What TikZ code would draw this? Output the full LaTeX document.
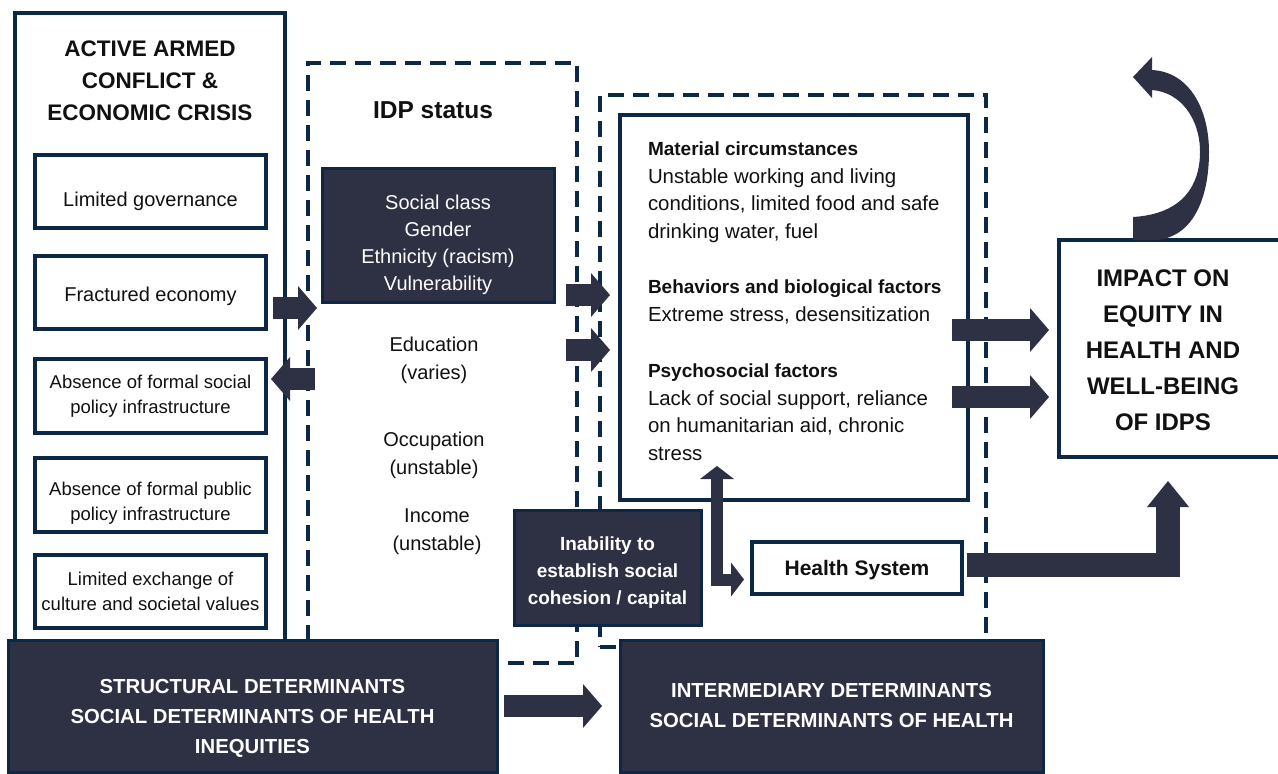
\documentclass[tikz,border=0pt]{standalone}
\usepackage{fontspec}
\setmainfont{Liberation Sans}
\usetikzlibrary{arrows.meta,calc}
\definecolor{navy}{HTML}{0C2846}
\definecolor{darkf}{HTML}{2E3044}
\definecolor{ink}{HTML}{111111}
\newcommand\myfs[2]{\fontsize{#1}{#2}\selectfont}
\begin{document}
\begin{tikzpicture}[x=1pt,y=-1pt,
  box/.style={draw=navy, line width=3.5pt, fill=white, inner sep=0pt, outer sep=0pt, anchor=north west, align=center, text=ink},
  darkbox/.style={draw=navy, line width=3pt, fill=darkf, text=white, inner sep=0pt, outer sep=0pt, anchor=north west, align=center},
  dashbox/.style={draw=navy, line width=4pt, dash pattern=on 16pt off 9pt, inner sep=0pt, outer sep=0pt, anchor=north west},
  txt/.style={inner sep=0pt, outer sep=0pt, align=center, text=ink},
  wtxt/.style={inner sep=0pt, outer sep=0pt, align=center, text=white},
  bigarrow/.style={color=darkf, line width=22pt, -{Triangle[length=19pt,width=44pt,line width=0pt]}},
  elbowarrow/.style={color=darkf, line width=24pt, miter limit=10, line join=miter, -{Triangle[length=26pt,width=42pt,line width=0pt]}},
  duoarrow/.style={color=darkf, line width=12pt, line join=miter, {Triangle[length=13pt,width=34pt,line width=0pt]}-{Triangle[length=13pt,width=34pt,line width=0pt]}}
]
\useasboundingbox (0,0) rectangle (1278,774);
\fill[white] (0,0) rectangle (1278,774);

% dashed containers
\node[dashbox, minimum width=269pt, minimum height=600pt] (idp) at (308,63) {};
\node[dashbox, minimum width=386pt, minimum height=552pt] (inter) at (600,95) {};

% left column
\node[box, minimum width=270pt, minimum height=640pt] (outer) at (15,13) {};
\node[txt, font=\bfseries\myfs{22.5}{32}] (title) at (150,81) {ACTIVE ARMED\\CONFLICT \&\\ECONOMIC CRISIS};
\node[box, minimum width=231pt, minimum height=73pt] (lg) at (35,155) {};
\node[txt, font=\myfs{20}{25}, yshift=-10pt] (lgt) at (lg.center) {Limited governance};
\node[box, minimum width=231pt, minimum height=73pt] (fe) at (35,256) {};
\node[txt, font=\myfs{20}{25}, yshift=-4pt] (fet) at (fe.center) {Fractured economy};
\node[box, minimum width=231pt, minimum height=74pt, font=\myfs{18.5}{25}] (afs) at (35,359) {Absence of formal social\\policy infrastructure};
\node[box, minimum width=231pt, minimum height=74pt] (afp) at (35,458) {};
\node[txt, font=\myfs{18.5}{25}, yshift=-8pt] (afpt) at (afp.center) {Absence of formal public\\policy infrastructure};
\node[box, minimum width=231pt, minimum height=73pt, font=\myfs{18.5}{25}] (lex) at (35,555) {Limited exchange of\\culture and societal values};

% IDP column
\node[txt, font=\bfseries\myfs{24.5}{30}] (idpt) at (433,110) {IDP status};
\node[darkbox, minimum width=232pt, minimum height=134pt] (soc) at (322,168) {};
\node[wtxt, font=\myfs{20}{27}, yshift=-10pt] (soct) at (soc.center) {Social class\\Gender\\Ethnicity (racism)\\Vulnerability};
\node[txt, font=\myfs{20}{28}] (edu) at (434,360) {Education\\(varies)};
\node[txt, font=\myfs{20}{28}] (occ) at (434,455) {Occupation\\(unstable)};
\node[txt, font=\myfs{20}{28}] (inc) at (437,532) {Income\\(unstable)};

% intermediary column
\node[box, minimum width=348pt, minimum height=385pt] (mat) at (620,115) {};
\node[txt, anchor=north west, align=left, font=\myfs{20.4}{27.6}] (matt) at (648,142)
  {{\bfseries\myfs{19}{27.6}Material circumstances}\\
   Unstable working and living\\
   conditions, limited food and safe\\
   drinking water, fuel\\[27.6pt]
   {\bfseries\myfs{19}{27.6}Behaviors and biological factors}\\
   Extreme stress, desensitization\\[28.5pt]
   {\bfseries\myfs{19}{27.6}Psychosocial factors}\\
   Lack of social support, reliance\\
   on humanitarian aid, chronic\\
   stress};
\node[box, minimum width=210pt, minimum height=52pt] (hs) at (752,542) {};
\node[txt, font=\bfseries\myfs{21}{25}, yshift=-2pt] (hst) at (hs.center) {Health System};
\node[darkbox, minimum width=187pt, minimum height=115pt] (inab) at (514,510) {};
\node[wtxt, font=\bfseries\myfs{19}{27}, yshift=-5pt] (inabt) at (inab.center) {Inability to\\establish social\\cohesion / capital};

% impact
\node[box, minimum width=245pt, minimum height=217pt] (imp) at (1059,240) {};
\node[txt, font=\bfseries\myfs{24}{36}] (impt) at (1163,350) {IMPACT ON\\EQUITY IN\\HEALTH AND\\WELL-BEING\\OF IDPS};

% bottom bars
\node[darkbox, minimum width=489pt, minimum height=132pt] (struct) at (8,640) {};
\node[wtxt, font=\bfseries\myfs{20.3}{30}, yshift=-12pt] (structt) at (struct.center) {STRUCTURAL DETERMINANTS\\SOCIAL DETERMINANTS OF HEALTH\\INEQUITIES};
\node[darkbox, minimum width=423pt, minimum height=132pt, font=\bfseries\myfs{20.3}{30}] (interm) at (620,640) {INTERMEDIARY DETERMINANTS\\SOCIAL DETERMINANTS OF HEALTH};

% block arrows
\draw[bigarrow] ([xshift=-12pt]outer.east |- 0,308) -- ([xshift=9pt]idp.west |- 0,308);
\draw[bigarrow] ([xshift=7pt]idp.west |- 0,379) -- ([xshift=-14pt]outer.east |- 0,379);
\draw[bigarrow] ([xshift=-11pt]idp.east |- 0,295) -- ([xshift=-10pt]mat.west |- 0,295);
\draw[bigarrow] ([xshift=-11pt]idp.east |- 0,350) -- ([xshift=-10pt]mat.west |- 0,350);
\draw[bigarrow] ([xshift=-16pt]mat.east |- 0,330) -- ([xshift=-10pt]imp.west |- 0,330);
\draw[bigarrow] ([xshift=-16pt]mat.east |- 0,397) -- ([xshift=-10pt]imp.west |- 0,397);
\draw[bigarrow] ([xshift=7pt]struct.east |- 0,706) -- ([xshift=-18pt]interm.west |- 0,706);
\draw[elbowarrow] ([xshift=5pt]hs.east |- 0,565) -| ([yshift=-24pt]imp.south -| 1168,0);
\draw[duoarrow] ([yshift=34pt]mat.south -| 717,0) |- ([xshift=-8pt]hs.west |- 0,579.5);

% curved feedback arrow
\fill[darkf] (1133,240) -- (1133,217)
  .. controls (1183,214) and (1200,185) .. (1200,152)
  .. controls (1200,118) and (1180,92) .. (1152,90)
  -- (1152,98) -- (1133,77) -- (1152,57) -- (1152,70)
  .. controls (1190,72) and (1209,110) .. (1209,152)
  .. controls (1209,200) and (1192,238) .. (1155,240) -- cycle;
\end{tikzpicture}
\end{document}
